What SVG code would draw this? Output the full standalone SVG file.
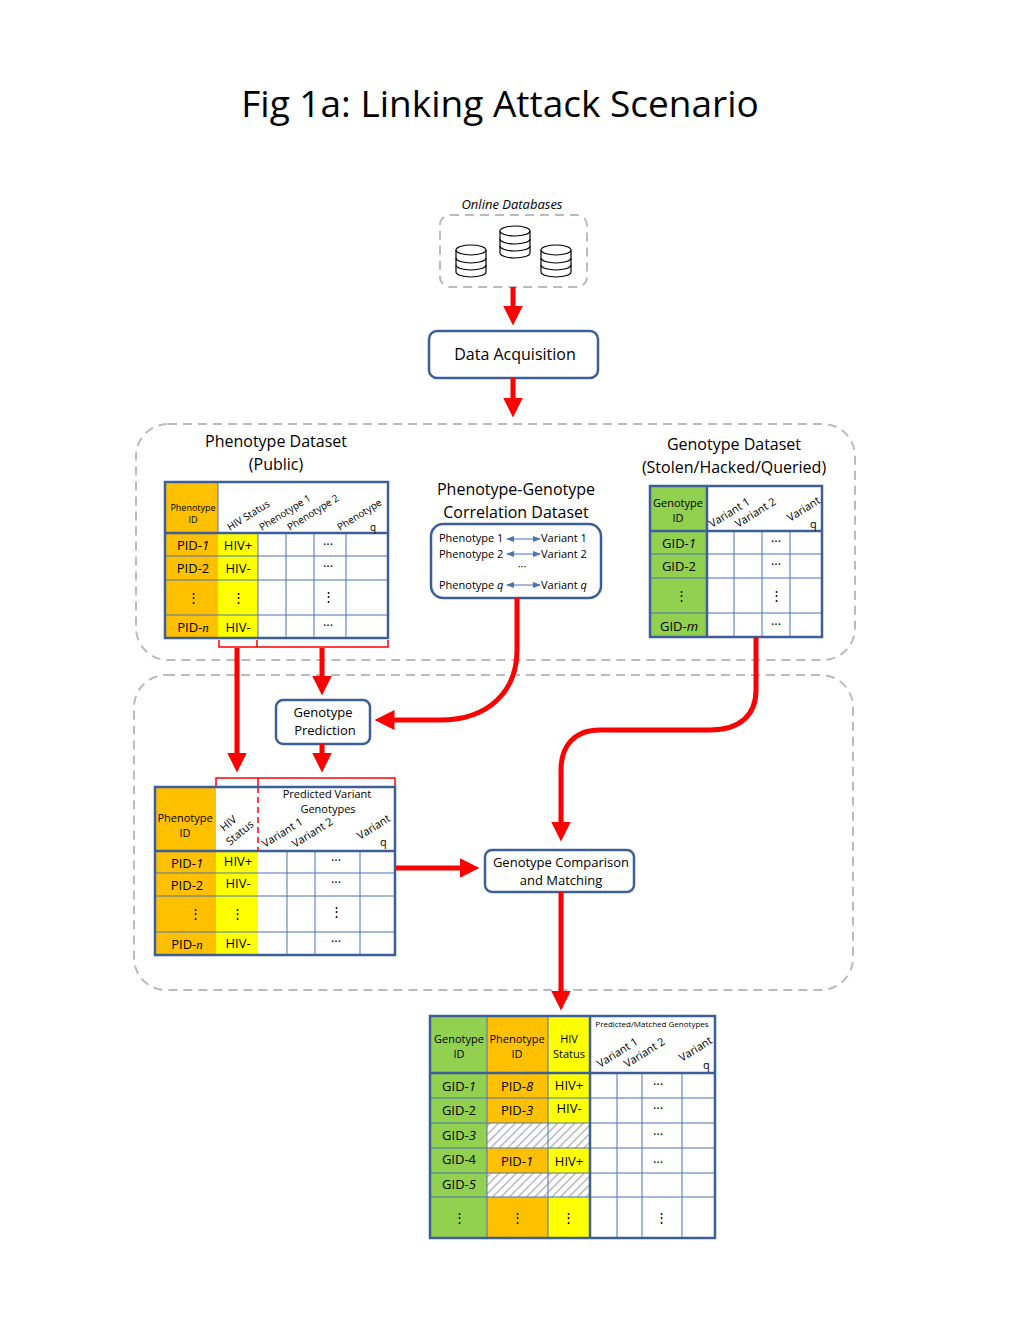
<svg xmlns="http://www.w3.org/2000/svg" width="1024" height="1344" viewBox="0 0 1024 1344">
<style>
text{font-family:"Open Sans","Noto Sans",sans-serif;fill:#000}
.t{font-size:13px}
.s{font-size:12px}
.xs{font-size:10px}
.lbl{font-size:16px}
.g{stroke:#4a74b4;stroke-width:1;fill:none}
.bd{stroke:#3c5f99;stroke-width:2.5;fill:none}
.box{fill:#fff;stroke:#3c5f99;stroke-width:2.5}
.red{stroke:#f00;stroke-width:5;fill:none}
.rb{stroke:#f00;stroke-width:1.5;fill:none}
.dash{fill:none;stroke:#bbb;stroke-width:2;stroke-dasharray:9 6}
.or{fill:#ffc000}.ye{fill:#ffff00}.gr{fill:#92d050}
.db{fill:#fff;stroke:#000;stroke-width:1.2}
</style>
<defs>
<marker id="ah" markerWidth="4" markerHeight="4" refX="2.5" refY="2" orient="auto" markerUnits="strokeWidth"><path d="M0,0L4,2L0,4z" fill="#f00"/></marker>
<marker id="ba" markerWidth="8" markerHeight="6" refX="7" refY="3" orient="auto-start-reverse" markerUnits="userSpaceOnUse"><path d="M0,0L8,3L0,6z" fill="#4a74b4"/></marker>
<pattern id="hatch" width="6" height="6" patternUnits="userSpaceOnUse" patternTransform="rotate(45)"><rect width="6" height="6" fill="#fff"/><line x1="0" y1="0" x2="0" y2="6" stroke="#aaa" stroke-width="2.5"/></pattern>
</defs>
<rect width="1024" height="1344" fill="#fff"/>
<text x="500" y="117" text-anchor="middle" font-size="37">Fig 1a: Linking Attack Scenario</text>

<g id="online">
<text x="512" y="209" text-anchor="middle" class="t" font-style="italic">Online Databases</text>
<rect class="dash" x="440" y="215" width="147" height="72" rx="10"/>
<g class="db">
<path d="M456,250v22a15,5 0 0 0 30,0v-22"/><ellipse cx="471" cy="250" rx="15" ry="5"/><path d="M456,258a15,5 0 0 0 30,0M456,265a15,5 0 0 0 30,0" fill="none"/>
<path d="M500,231v22a15,5 0 0 0 30,0v-22"/><ellipse cx="515" cy="231" rx="15" ry="5"/><path d="M500,239a15,5 0 0 0 30,0M500,246a15,5 0 0 0 30,0" fill="none"/>
<path d="M541,250v22a15,5 0 0 0 30,0v-22"/><ellipse cx="556" cy="250" rx="15" ry="5"/><path d="M541,258a15,5 0 0 0 30,0M541,265a15,5 0 0 0 30,0" fill="none"/>
</g>
</g>

<g id="acq"><rect class="box" x="429" y="331" width="169" height="47" rx="8"/><text x="515" y="360" text-anchor="middle" class="lbl">Data Acquisition</text></g>

<rect class="dash" x="136" y="424" width="719" height="236" rx="32"/>
<rect class="dash" x="134" y="675" width="719" height="315" rx="32"/>

<g id="pheno">
<text x="276" y="447" text-anchor="middle" class="lbl">Phenotype Dataset</text>
<text x="276" y="470" text-anchor="middle" class="lbl">(Public)</text>
<rect class="or" x="165" y="482" width="53" height="156"/>
<rect class="ye" x="218" y="533" width="40" height="105"/>
<g class="g"><path d="M258,533V638M286,533V638M314,533V638M346,533V638M165,556H388M165,580H388M165,615H388M218,482V533"/></g>
<rect class="bd" x="165" y="482" width="223" height="156"/><path class="bd" d="M165,533H388"/>
<text x="193" y="511" text-anchor="middle" font-size="9">Phenotype</text><text x="193" y="523" text-anchor="middle" font-size="9">ID</text>
<g class="xs" font-size="11">
<text transform="translate(230,531) rotate(-32)">HIV Status</text>
<text transform="translate(262,531) rotate(-32)">Phenotype 1</text>
<text transform="translate(290,531) rotate(-32)">Phenotype 2</text>
<text transform="translate(340,531) rotate(-32)">Phenotype</text>
<text x="370" y="531">q</text>
</g>
<g class="t" text-anchor="middle">
<text x="193" y="550">PID-<tspan font-style="italic">1</tspan></text><text x="238" y="550">HIV+</text><text x="328" y="549">···</text>
<text x="193" y="573">PID-2</text><text x="238" y="573">HIV-</text><text x="328" y="571">···</text>
<text x="193" y="602">⋮</text><text x="238" y="602">⋮</text><text x="328" y="601">⋮</text>
<text x="193" y="632">PID-<tspan font-style="italic" font-family="Liberation Serif">n</tspan></text><text x="238" y="632">HIV-</text><text x="328" y="630">···</text>
</g>
<path class="rb" d="M219,640V647H257V640M257,647H388V640"/>
</g>

<g id="corr">
<text x="516" y="495" text-anchor="middle" class="lbl">Phenotype-Genotype</text>
<text x="516" y="518" text-anchor="middle" class="lbl">Correlation Dataset</text>
<rect class="box" x="431" y="524" width="170" height="74" rx="12"/>
<g font-size="11">
<text x="439" y="542">Phenotype 1</text><text x="541" y="542">Variant 1</text>
<text x="439" y="558">Phenotype 2</text><text x="541" y="558">Variant 2</text>
<text x="522" y="570" text-anchor="middle">···</text>
<text x="439" y="589">Phenotype <tspan font-style="italic">q</tspan></text><text x="541" y="589">Variant <tspan font-style="italic">q</tspan></text>
</g>
<g stroke="#4a74b4" stroke-width="1"><line x1="507" y1="539" x2="540" y2="539" marker-start="url(#ba)" marker-end="url(#ba)"/><line x1="507" y1="554" x2="540" y2="554" marker-start="url(#ba)" marker-end="url(#ba)"/><line x1="507" y1="585" x2="540" y2="585" marker-start="url(#ba)" marker-end="url(#ba)"/></g>
</g>

<g id="geno">
<text x="734" y="450" text-anchor="middle" class="lbl">Genotype Dataset</text>
<text x="734" y="473" text-anchor="middle" class="lbl">(Stolen/Hacked/Queried)</text>
<rect class="gr" x="650" y="486" width="57" height="151"/>
<g class="g"><path d="M734,531V637M762,531V637M790,531V637M650,554H822M650,578H822M650,613H822M707,486V531"/></g>
<rect class="bd" x="650" y="486" width="172" height="151"/><path class="bd" d="M650,531H822M707,486V637"/>
<text x="678" y="507" text-anchor="middle" font-size="11">Genotype</text><text x="678" y="522" text-anchor="middle" font-size="11">ID</text>
<g font-size="11">
<text transform="translate(712,528) rotate(-32)">Variant 1</text>
<text transform="translate(738,528) rotate(-32)">Variant 2</text>
<text transform="translate(790,522) rotate(-32)">Variant</text>
<text x="810" y="528">q</text>
</g>
<g class="t" text-anchor="middle">
<text x="679" y="548">GID-<tspan font-style="italic">1</tspan></text><text x="776" y="546">···</text>
<text x="679" y="571">GID-2</text><text x="776" y="569">···</text>
<text x="681" y="600">⋮</text><text x="776" y="600">⋮</text>
<text x="679" y="631">GID-<tspan font-style="italic">m</tspan></text><text x="776" y="629">···</text>
</g>
</g>

<g id="gpred"><rect class="box" x="276" y="700" width="94" height="44" rx="7"/><text x="323" y="717" text-anchor="middle" class="t">Genotype</text><text x="325" y="735" text-anchor="middle" class="t">Prediction</text></g>

<g id="mid">
<rect class="or" x="155" y="787" width="61" height="168"/>
<rect class="ye" x="216" y="851" width="42" height="104"/>
<g class="g"><path d="M287,851V955M315,851V955M360,851V955M155,873H395M155,896H395M155,932H395"/></g>
<rect class="bd" x="155" y="787" width="240" height="168"/><path class="bd" d="M155,851H395"/>
<path d="M258,787V851" stroke="#f00" stroke-width="1.5" stroke-dasharray="6 4"/>
<text x="185" y="822" text-anchor="middle" font-size="11">Phenotype</text><text x="185" y="837" text-anchor="middle" font-size="11">ID</text>
<g font-size="11">
<text transform="translate(224,832) rotate(-40)">HIV</text>
<text transform="translate(230,846) rotate(-40)">Status</text>
<text x="327" y="798" text-anchor="middle">Predicted Variant</text>
<text x="328" y="813" text-anchor="middle">Genotypes</text>
<text transform="translate(265,848) rotate(-32)">Variant 1</text>
<text transform="translate(295,848) rotate(-32)">Variant 2</text>
<text transform="translate(360,840) rotate(-32)">Variant</text>
<text x="380" y="846">q</text>
</g>
<g class="t" text-anchor="middle">
<text x="187" y="868">PID-<tspan font-style="italic">1</tspan></text><text x="238" y="866">HIV+</text><text x="336" y="865">···</text>
<text x="187" y="890">PID-2</text><text x="238" y="888">HIV-</text><text x="336" y="887">···</text>
<text x="195" y="918">⋮</text><text x="237" y="918">⋮</text><text x="336" y="916">⋮</text>
<text x="187" y="949">PID-<tspan font-style="italic" font-family="Liberation Serif">n</tspan></text><text x="238" y="948">HIV-</text><text x="336" y="946">···</text>
</g>
<path class="rb" d="M216,786V778H258V786M258,778H395V786"/>
</g>

<g id="comp"><rect class="box" x="485" y="850" width="149" height="42" rx="7"/><text x="561" y="867" text-anchor="middle" class="t">Genotype Comparison</text><text x="561" y="885" text-anchor="middle" class="t">and Matching</text></g>

<g id="final">
<rect class="gr" x="430" y="1016" width="57" height="222"/>
<rect class="or" x="487" y="1016" width="61" height="222"/>
<rect class="ye" x="548" y="1016" width="42" height="222"/>
<rect fill="url(#hatch)" x="487" y="1123" width="103" height="25"/>
<rect fill="url(#hatch)" x="487" y="1173" width="103" height="24"/>
<g class="g"><path d="M617,1073V1238M642,1073V1238M682,1073V1238M430,1098H715M430,1123H715M430,1148H715M430,1173H715M430,1197H715M487,1016V1238M548,1016V1238"/></g>
<rect class="bd" x="430" y="1016" width="285" height="222"/><path class="bd" d="M430,1073H715M590,1016V1238"/>
<g font-size="11" text-anchor="middle">
<text x="459" y="1043">Genotype</text><text x="459" y="1058">ID</text>
<text x="517" y="1043">Phenotype</text><text x="517" y="1058">ID</text>
<text x="569" y="1043">HIV</text><text x="569" y="1058">Status</text>
</g>
<text x="652" y="1027" text-anchor="middle" font-size="8">Predicted/Matched Genotypes</text>
<g font-size="11">
<text transform="translate(600,1068) rotate(-32)">Variant 1</text>
<text transform="translate(627,1068) rotate(-32)">Variant 2</text>
<text transform="translate(682,1062) rotate(-32)">Variant</text>
<text x="703" y="1069">q</text>
</g>
<g class="t" text-anchor="middle">
<text x="459" y="1091">GID-<tspan font-style="italic">1</tspan></text><text x="517" y="1091">PID-<tspan font-style="italic">8</tspan></text><text x="569" y="1090">HIV+</text><text x="658" y="1089">···</text>
<text x="459" y="1115">GID-2</text><text x="517" y="1115">PID-<tspan font-style="italic">3</tspan></text><text x="569" y="1113">HIV-</text><text x="658" y="1113">···</text>
<text x="459" y="1140">GID-<tspan font-style="italic">3</tspan></text><text x="658" y="1139">···</text>
<text x="459" y="1164">GID-4</text><text x="517" y="1166">PID-<tspan font-style="italic">1</tspan></text><text x="569" y="1166">HIV+</text><text x="658" y="1167">···</text>
<text x="459" y="1189">GID-<tspan font-style="italic">5</tspan></text>
<text x="459" y="1222">⋮</text><text x="517" y="1222">⋮</text><text x="568" y="1222">⋮</text><text x="661" y="1222">⋮</text>
</g>
</g>

<g id="connectors" class="red">
<path d="M513,287V318" marker-end="url(#ah)"/>
<path d="M513,378V410" marker-end="url(#ah)"/>
<path d="M237,648V765" marker-end="url(#ah)"/>
<path d="M322,648V688" marker-end="url(#ah)"/>
<path d="M322,744V765" marker-end="url(#ah)"/>
<path d="M517,598V650C517,690 490,720 440,720H382" marker-end="url(#ah)"/>
<path d="M756,637V690C756,715 740,730 710,730H600C575,730 561,745 561,770V834" marker-end="url(#ah)"/>
<path d="M396,868H472" marker-end="url(#ah)"/>
<path d="M561,892V1003" marker-end="url(#ah)"/>
</g>
</svg>
